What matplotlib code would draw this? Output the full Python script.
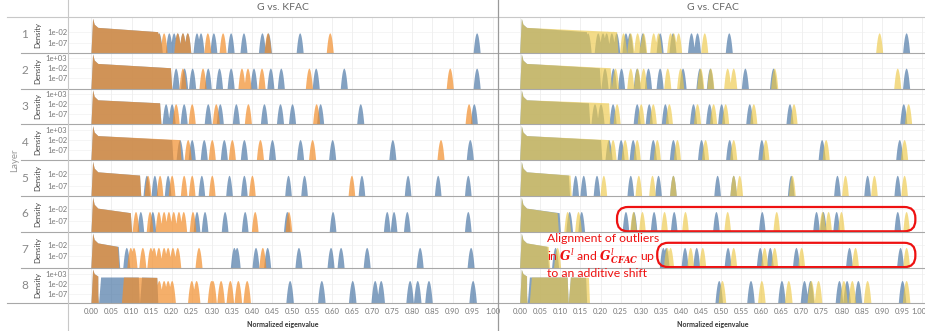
import numpy as np
import matplotlib.pyplot as plt
from matplotlib.patches import FancyBboxPatch
from matplotlib.transforms import ScaledTranslation

plt.rcParams['font.family'] = ['Lato', 'DejaVu Sans']
plt.rcParams['mathtext.fontset'] = 'dejavuserif'

W, H = 925, 331
layers = [1, 2, 3, 4, 5, 6, 7, 8]
xticks = [round(0.05 * i, 2) for i in range(21)]

# y range of each row (log10 density) and which tick labels are shown
y_lo = [-12.0, -12.0, -12.3, -12.3, -11.4, -12.0, -12.8, -12.0]
y_hi = [5.6, 5.5, 5.6, 5.6, 4.0, 3.9, 4.6, 6.3]
yticks = [[1e-2, 1e-7], [1e3, 1e-2, 1e-7], [1e3, 1e-2, 1e-7], [1e3, 1e-2, 1e-7],
          [1e-2, 1e-7], [1e-2, 1e-7], [1e-2, 1e-7], [1e3, 1e-2, 1e-7]]

# height of the spike at 0 and of a single outlier (log10 density)
spike_top = [5.0, 5.0, 5.0, 5.0, 3.5, 3.4, 4.0, 5.5]
outlier_top = [-2.2, -2.0, -2.0, -2.0, -2.5, -3.0, -3.0, -0.3]

# bulk blocks: (start, end, log10 density at start, at end)
g_bulk = [
    [(0.0, 0.165, 0.5, -1.6)],
    [(0.0, 0.197, 0.3, -1.8)],
    [(0.0, 0.17, 0.0, -1.5)],
    [(0.0, 0.2, 0.0, -2.0)],
    [(0.0, 0.12, -1.0, -2.4)],
    [(0.0, 0.097, -1.5, -3.5)],
    [(0.0, 0.067, -0.8, -2.5)],
    [(0.0, 0.014, 2.0, 0.0), (0.02, 0.117, 1.5, 1.5), (0.122, 0.163, 1.5, 1.3)],
]
kfac_bulk = [
    [(0.0, 0.165, 0.5, -1.6)],
    [(0.0, 0.197, 0.3, -1.8)],
    [(0.0, 0.17, 0.0, -1.5)],
    [(0.0, 0.22, 0.0, -2.0)],
    [(0.0, 0.12, -1.0, -2.4)],
    [(0.0, 0.097, -1.5, -3.5)],
    [(0.0, 0.065, -0.8, -2.5)],
    [(0.0, 0.014, 2.0, 0.0), (0.077, 0.163, 1.5, 1.3)],
]
cfac_bulk = [
    [(0.0, 0.24, 0.5, -1.6)],
    [(0.0, 0.224, 0.3, -1.8)],
    [(0.0, 0.22, 0.0, -1.5)],
    [(0.0, 0.22, 0.0, -2.0)],
    [(0.0, 0.124, -1.0, -2.4)],
    [(0.0, 0.092, -1.5, -3.5)],
    [(0.0, 0.07, -0.8, -2.5)],
    [(0.0, 0.014, 2.0, 0.0), (0.025, 0.117, 1.5, 1.5), (0.122, 0.17, 1.5, 1.3)],
]

# outlier eigenvalues
g_out = [
    [0.168, 0.193, 0.205, 0.214, 0.227, 0.239, 0.262, 0.272, 0.304, 0.347, 0.379, 0.425, 0.44, 0.519, 0.96],
    [0.21, 0.231, 0.251, 0.29, 0.318, 0.347, 0.404, 0.446, 0.472, 0.559, 0.629, 0.96],
    [0.185, 0.2, 0.23, 0.29, 0.32, 0.36, 0.43, 0.47, 0.5, 0.57, 0.67, 0.953],
    [0.22, 0.25, 0.28, 0.33, 0.38, 0.45, 0.52, 0.6, 0.75, 0.943],
    [0.137, 0.157, 0.19, 0.274, 0.343, 0.38, 0.49, 0.53, 0.673, 0.788, 0.863, 0.938],
    [0.122, 0.152, 0.262, 0.282, 0.332, 0.382, 0.487, 0.601, 0.736, 0.753, 0.786, 0.938],
    [0.087, 0.355, 0.362, 0.409, 0.438, 0.516, 0.596, 0.621, 0.686, 0.818, 0.945],
    [0.494, 0.573, 0.65, 0.706, 0.721, 0.793, 0.812, 0.84, 0.95],
]
kfac_out = [
    [0.167, 0.18, 0.214, 0.227, 0.239, 0.289, 0.327, 0.439, 0.594],
    [0.227, 0.277, 0.374, 0.389, 0.424, 0.542, 0.893],
    [0.21, 0.25, 0.31, 0.39, 0.56, 0.94],
    [0.24, 0.3, 0.35, 0.42, 0.55, 0.87],
    [0.14, 0.17, 0.2, 0.23, 0.25, 0.3, 0.4, 0.648],
    [0.11, 0.145, 0.167, 0.18, 0.192, 0.204, 0.217, 0.229, 0.252, 0.407, 0.491],
    [0.097, 0.105, 0.127, 0.147, 0.155, 0.167, 0.18, 0.19, 0.202, 0.214, 0.267, 0.426],
    [0.168, 0.18, 0.19, 0.2, 0.249, 0.261, 0.298, 0.302, 0.322, 0.345, 0.365, 0.387],
]
cfac_out = [
    [0.216, 0.231, 0.256, 0.274, 0.291, 0.306, 0.331, 0.343, 0.373, 0.381, 0.393, 0.458, 0.893],
    [0.236, 0.274, 0.291, 0.306, 0.366, 0.398, 0.448, 0.473, 0.515, 0.53, 0.632, 0.938],
    [0.24, 0.3, 0.33, 0.37, 0.44, 0.48, 0.51, 0.58, 0.68, 0.965],
    [0.23, 0.26, 0.29, 0.34, 0.39, 0.46, 0.53, 0.61, 0.76, 0.955],
    [0.207, 0.294, 0.328, 0.38, 0.53, 0.545, 0.676, 0.808, 0.88, 0.955],
    [0.117, 0.144, 0.281, 0.303, 0.358, 0.41, 0.515, 0.637, 0.751, 0.766, 0.798, 0.96],
    [0.092, 0.365, 0.373, 0.423, 0.453, 0.53, 0.607, 0.632, 0.699, 0.833, 0.96],
    [0.502, 0.6, 0.667, 0.723, 0.741, 0.804, 0.825, 0.863, 0.96],
]

BLUE, ORANGE, YELLOW = '#4e79a7', '#f28e2b', '#edc948'
FLOOR = -14.0
xs = np.linspace(-0.06, 1.02, 6000)


def density(blocks, outliers, spike, peak, sigma=0.0013):
    dens = np.zeros_like(xs)
    for a, b, ya, yb in blocks:
        if a == 0:
            kx = [a - 0.0015, a + 0.003, a + 0.007, a + 0.016, b, b + 0.004]
            ky = [FLOOR, spike, ya + (spike - ya) * 0.35, ya, yb, FLOOR]
        else:
            kx = [a - 0.003, a + 0.003, b, b + 0.003]
            ky = [FLOOR, ya, yb, FLOOR]
        dens += 10 ** np.interp(xs, kx, ky, left=FLOOR, right=FLOOR)
    for m in outliers:
        dens += 10 ** peak * np.exp(-0.5 * ((xs - m) / sigma) ** 2)
    return np.maximum(dens, 10 ** FLOOR)


fig = plt.figure(figsize=(W / 100, H / 100), dpi=100)


def px_axes(x0, y0, x1, y1):
    return fig.add_axes([x0 / W, 1 - y1 / H, (x1 - x0) / W, (y1 - y0) / H])


row_h = 35.8
row_top = [17 + i * row_h for i in range(8)]
panels = [(68.5, 497.5, (-0.057, 1.012)), (498.0, 925.0, (-0.055, 1.007))]
axes = {}

for i in range(8):
    for j, (x0, x1, xl) in enumerate(panels):
        ax = px_axes(x0, row_top[i], x1, row_top[i] + row_h)
        axes[(i, j)] = ax
        ax.set_yscale('log')
        ax.set_xlim(*xl)
        ax.set_ylim(10 ** y_lo[i], 10 ** y_hi[i])
        for s in ax.spines.values():
            s.set_visible(False)
        ax.set_xticks(xticks)
        ax.grid(axis='x', color='#eeeeee', lw=0.6)
        ax.set_axisbelow(True)
        for t in yticks[i]:
            ax.axhline(t, color='#f2f2f2', lw=0.5, zorder=0)
        ax.tick_params(length=0, labelsize=5.5, labelcolor='#777777', pad=1)
        ax.yaxis.set_minor_locator(plt.NullLocator())
        if j == 0:
            ax.set_yticks(yticks[i])
            ax.set_yticklabels(['%.0e' % t for t in yticks[i]])
        else:
            ax.set_yticks([])
        if i == 7:
            ax.set_xticklabels(['%.2f' % t for t in xticks])
            ax.tick_params(axis='x', pad=3)
            if j == 1:
                lab = ax.get_xticklabels()[-1]
                lab.set_horizontalalignment('right')
                lab.set_transform(lab.get_transform() +
                                  ScaledTranslation(4 / 100, 0, fig.dpi_scale_trans))
        else:
            ax.set_xticklabels([])

        floor = np.full_like(xs, 10 ** FLOOR)
        g = density(g_bulk[i], g_out[i], spike_top[i], outlier_top[i])
        ax.fill_between(xs, floor, g, color=BLUE, alpha=0.7, lw=0)
        if j == 0:
            k = density(kfac_bulk[i], kfac_out[i], spike_top[i], outlier_top[i])
            ax.fill_between(xs, floor, k, color=ORANGE, alpha=0.7, lw=0)
        else:
            c = density(cfac_bulk[i], cfac_out[i], spike_top[i], outlier_top[i])
            ax.fill_between(xs, floor, c, color=YELLOW, alpha=0.65, lw=0)

# overlay in pixel coordinates for frame lines and the annotation
ov = fig.add_axes([0, 0, 1, 1])
ov.set_xlim(0, W)
ov.set_ylim(H, 0)
ov.axis('off')
ov.patch.set_alpha(0)
ov.set_zorder(10)

ov.plot([7, W], [17, 17], color='#c8c8c8', lw=0.8)
for i in range(8):
    yb = row_top[i] + row_h
    ov.plot([7 if i == 7 else 21, W], [yb, yb], color='#a8a8a8', lw=0.8)
ov.plot([68, 68], [0, H], color='#c8c8c8', lw=0.8)
ov.plot([497.7, 497.7], [0, H], color='#9a9a9a', lw=0.9)

for i, lay in enumerate(layers):
    yc = row_top[i] + row_h / 2
    ov.text(25, yc, str(lay), ha='center', va='center', fontsize=8.5, color='#888888')
    ov.text(38, yc, 'Density', ha='center', va='center', rotation=90, fontsize=5.5,
            color='#444444')
ov.text(15, 160, 'Layer', ha='center', va='center', rotation=90, fontsize=7, color='#999999')

ov.text(283, 8, 'G vs. KFAC', ha='center', va='center', fontsize=7.5, color='#666666')
ov.text(713, 8, 'G vs. CFAC', ha='center', va='center', fontsize=7.5, color='#666666')
ov.text(283, 324, 'Normalized eigenvalue', ha='center', va='center', fontsize=5,
        fontweight='bold', color='#333333')
ov.text(713, 324, 'Normalized eigenvalue', ha='center', va='center', fontsize=5,
        fontweight='bold', color='#333333')

# red rounded boxes around the aligned outliers (rows 6 and 7, right panel)
RED = '#ee1111'
for i, xa, xb in [(5, 0.241, 0.983), (6, 0.341, 0.983)]:
    ax = axes[(i, 1)]
    p0 = ax.transData.transform((xa, 1.0))[0]
    p1 = ax.transData.transform((xb, 1.0))[0]
    y0 = row_top[i] + 11
    y1 = row_top[i] + row_h - 0.5
    ov.add_patch(FancyBboxPatch((p0, y0), p1 - p0, y1 - y0,
                                boxstyle='round,pad=0,rounding_size=11',
                                fill=False, ec=RED, lw=1.6))

ov.text(547, 256,
        'Alignment of outliers\n'
        r'in $\mathbfit{G}^{l}$ and $\mathbfit{G}^{l}_{\mathbfit{CFAC}}$ up' '\n'
        'to an additive shift',
        ha='left', va='center', fontsize=8.8, color=RED, linespacing=1.2)

fig.savefig('out.png', dpi=100)
